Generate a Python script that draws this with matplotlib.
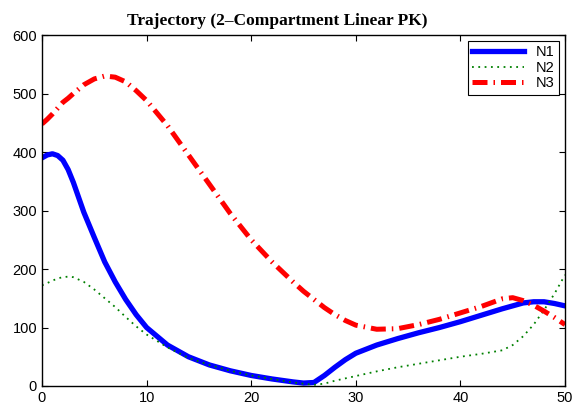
import matplotlib
matplotlib.use('Agg')
import matplotlib.pyplot as plt

# Trajectory data
t = [0, 0.5, 1, 1.5, 2, 2.5, 3, 4, 5, 6, 7, 8, 9, 10, 12, 14, 16, 18, 20,
     22, 24, 25, 26, 27, 28, 29, 30, 32, 34, 36, 38, 40, 42, 44, 45, 46, 47,
     48, 49, 50]
n1 = [390, 395, 397, 394, 386, 370, 348, 297, 254, 212, 178, 148, 122, 100,
      70, 50, 36, 26, 18, 12, 7, 5, 6, 18, 32, 45, 56, 70, 81, 91, 100, 110,
      121, 132, 137, 142, 144, 144, 141, 137]
n2 = [172, 176, 180, 184, 186, 187, 186, 178, 165, 150, 135, 118, 102, 88,
      66, 48, 36, 26, 18, 12, 6, 4, 2, 4, 9, 13, 17, 25, 32, 38, 44, 50, 55,
      61, 70, 85, 105, 130, 158, 190]
n3 = [448, 456, 465, 475, 485, 492, 500, 515, 525, 530, 528, 520, 505, 488,
      445, 395, 345, 295, 250, 212, 178, 162, 148, 134, 122, 112, 104, 97,
      98, 105, 114, 125, 136, 149, 151, 146, 138, 128, 117, 105]

plt.rcParams['font.family'] = 'Liberation Sans'

fig = plt.figure(figsize=(5.72, 4.03), dpi=100)
ax = fig.add_axes([0.0734, 0.0422, 0.9144, 0.8708])

ax.plot(t, n1, color='#0000ff', lw=3.8, label='N1')
ax.plot(t, n2, color='#008000', lw=1.3, ls=(0, (1, 2.5)), label='N2')
ax.plot(t, n3, color='#ff0000', lw=3.6, ls=(0, (3, 1.2, 0.3, 1.2)), label='N3')

ax.set_xlim(0, 50)
ax.set_ylim(0, 600)
ax.set_xticks(range(0, 51, 10))
ax.set_yticks(range(0, 601, 100))
ax.tick_params(direction='in', top=True, right=True, labelsize=10.5, length=4)
for s in ax.spines.values():
    s.set_linewidth(1.0)

# MATLAB puts the title a bit left of centre
ax.set_title('Trajectory (2\u2013Compartment Linear PK)', family='Liberation Serif',
             fontweight='bold', fontsize=12.5, pad=7, x=0.45)

leg = ax.legend(loc='upper right', fancybox=False, edgecolor='black',
                framealpha=1, fontsize=10.5, handlelength=3.6,
                borderaxespad=0.4, labelspacing=0.1, borderpad=0.3)
leg.get_frame().set_linewidth(0.8)

fig.savefig('out.png', dpi=100)
